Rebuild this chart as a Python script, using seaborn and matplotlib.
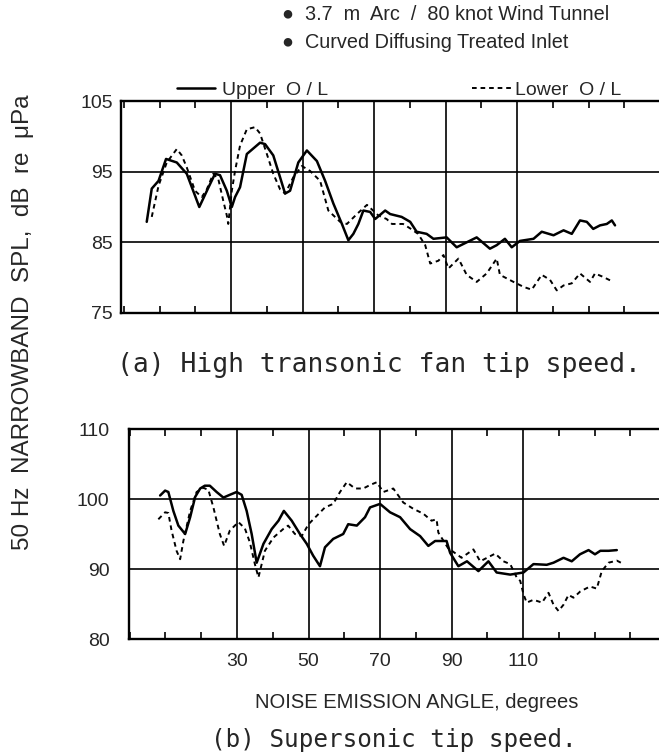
import numpy as np
import pandas as pd
import seaborn as sns
import matplotlib.pyplot as plt
from matplotlib.ticker import MultipleLocator

# (a) high transonic fan tip speed
a_upper_angle = [6.4, 7.8, 9.7, 11.8, 14.8, 17.6, 21.1, 23.7, 25.5, 26.9, 28.8, 30.2, 31.1, 32.5, 34.4,
                 38.1, 39.5, 41.8, 43.7, 45.1, 46.5, 48.8, 51.2, 54.0, 56.3, 58.6, 61.0, 62.8, 64.2,
                 65.6, 67.0, 68.9, 70.3, 73.1, 74.5, 77.7, 80.1, 81.9, 84.7, 86.6, 90.3, 93.1, 95.9,
                 98.7, 102.4, 104.3, 106.6, 108.5, 110.8, 114.6, 116.9, 120.2, 123.0, 125.3, 127.6,
                 129.5, 131.3, 133.2, 135.1, 136.5, 137.4]
a_upper_spl = [87.9, 92.6, 93.7, 96.8, 96.3, 94.7, 90.0, 92.8, 94.7, 94.5, 92.3, 90.0, 91.4, 92.8, 97.5,
               99.1, 98.9, 97.3, 94.2, 91.9, 92.3, 96.3, 98.0, 96.5, 93.7, 90.5, 87.6, 85.3, 86.2,
               87.6, 89.5, 89.3, 88.3, 89.5, 89.0, 88.6, 87.9, 86.5, 86.2, 85.5, 85.7, 84.3, 85.0,
               85.7, 84.1, 84.6, 85.5, 84.3, 85.2, 85.5, 86.5, 86.0, 86.7, 86.2, 88.1,
               87.9, 86.9, 87.4, 87.6, 88.1, 87.4]
a_lower_angle = [7.8, 9.7, 12.0, 14.8, 16.2, 17.6, 19.9, 21.8, 23.2, 25.0, 26.4, 27.8, 28.8, 29.2, 30.2,
                 31.1, 32.5, 34.4, 36.7, 38.1, 40.0, 41.8, 43.7, 45.1, 47.4, 49.8, 52.1, 54.9, 57.2,
                 60.5, 62.4, 65.2, 68.0, 71.2, 73.5, 75.0, 78.1, 80.0, 82.3, 84.3, 85.7, 88.0, 89.4,
                 90.8, 93.6, 95.9, 98.7, 101.5, 104.3, 105.2, 109.0, 111.8, 114.1, 116.9, 119.2,
                 121.1, 123.0, 125.3, 127.6, 130.4, 131.8, 134.1, 136.9]
a_lower_spl = [88.6, 93.0, 96.3, 98.2, 97.3, 95.6, 92.3, 91.4, 92.5, 94.7, 94.0, 90.9, 88.8, 87.6, 92.3,
               95.1, 98.7, 101.0, 101.3, 100.4, 97.5, 94.7, 92.5, 91.9, 94.2, 95.8, 95.1, 93.7, 89.5,
               87.9, 87.6, 89.0, 90.3, 88.8, 88.3, 87.6, 87.6, 87.0, 86.2, 84.6, 82.0, 82.4, 83.2,
               81.3, 82.7, 80.4, 79.4, 80.6, 82.7, 80.4, 79.4, 78.7, 78.3, 80.4, 79.7,
               78.2, 78.9, 79.2, 80.6, 79.4, 80.6, 80.1, 79.4]

# (b) supersonic tip speed
b_upper_angle = [8.5, 9.9, 10.8, 12.2, 13.6, 15.5, 16.9, 18.3, 19.7, 21.0, 22.4, 24.3, 26.2, 28.0, 29.9,
                 31.3, 32.7, 34.1, 35.5, 37.4, 39.7, 41.6, 43.1, 45.3, 47.6, 49.5, 51.3, 53.2, 54.6,
                 56.9, 59.7, 61.1, 63.5, 65.8, 67.2, 70.0, 72.8, 75.6, 78.4, 81.2, 83.5, 85.4, 88.6,
                 89.6, 91.9, 94.3, 97.5, 100.3, 102.6, 106.4, 110.1, 112.9, 116.6, 118.5, 121.3,
                 123.6, 125.9, 128.3, 130.1, 131.6, 133.9, 136.2]
b_upper_spl = [100.5, 101.2, 101.0, 98.3, 96.2, 95.0, 97.4, 100.3, 101.5, 101.9, 101.9, 101.0, 100.2,
               100.6, 101.0, 100.6, 98.3, 95.0, 90.9, 93.6, 95.7, 96.9, 98.3, 96.9, 95.0, 93.6, 91.9,
               90.4, 93.1, 94.3, 95.0, 96.4, 96.2, 97.4, 98.8, 99.3, 98.1, 97.4, 95.7, 94.7, 93.3,
               94.0, 94.0, 92.3, 90.4, 91.1, 89.7, 91.1, 89.5, 89.2, 89.5, 90.7, 90.6, 90.9, 91.6,
               91.1, 92.1, 92.7, 92.1, 92.6, 92.6, 92.7]
b_lower_angle = [8.0, 9.9, 10.8, 11.7, 13.1, 14.1, 15.0, 16.9, 18.7, 20.6, 22.0, 23.4, 25.2, 26.4, 28.0,
                 30.4, 32.2, 33.6, 35.0, 36.0, 37.8, 40.2, 42.9, 44.3, 46.2, 48.1, 50.0, 52.3, 54.6,
                 56.9, 58.8, 60.7, 63.0, 65.3, 67.2, 69.1, 70.9, 73.7, 76.5, 79.3, 82.1, 84.4, 85.8,
                 86.3, 89.0, 92.8, 96.1, 98.0, 102.2, 104.5, 106.4, 108.2, 109.2, 110.1, 111.0, 112.9,
                 115.3, 117.1, 118.5, 119.9, 121.3, 122.7, 124.1, 126.0, 128.7, 130.6, 132.0, 133.9,
                 136.2, 138.1]
b_lower_spl = [97.1, 98.1, 98.0, 95.5, 92.6, 91.4, 94.0, 98.3, 101.0, 101.6, 101.3, 98.8, 95.0, 93.3,
               95.5, 96.7, 95.8, 93.8, 90.7, 88.8, 92.6, 94.5, 95.7, 96.2, 95.0, 94.7, 96.4, 97.6,
               98.8, 99.3, 101.0, 102.4, 101.5, 101.5, 102.0, 102.4, 101.0, 101.5, 99.5, 98.6, 97.9,
               96.9, 97.1, 95.2, 93.0, 91.6, 92.8, 91.1, 92.2, 91.1, 90.7, 88.8, 88.3, 86.4, 85.2,
               85.6, 85.2, 86.6, 84.9, 84.0, 84.9, 86.3, 85.9, 86.8, 87.5, 87.2, 89.7, 90.9,
               91.2, 90.7]

grid_angles = [30, 50, 70, 90, 110]
bottom_labels = ["30", "50", "70", "90", "110"]
a_yticks = [75, 85, 95, 105]
b_yticks = [80, 90, 100, 110]

sns.set_style("white")
narrow = ['Liberation Sans Narrow', 'Liberation Sans', 'DejaVu Sans']
plt.rcParams['font.family'] = narrow

W, H = 659, 756
fig = plt.figure(figsize=(W / 100, H / 100), dpi=100)


def px_axes(left, top, right, bottom):
    return fig.add_axes([left / W, 1 - bottom / H, (right - left) / W, (bottom - top) / H])


def style(ax, xlim, ylim, yticks):
    ax.set_xlim(*xlim)
    ax.set_ylim(*ylim)
    ax.set_xticks(grid_angles)
    ax.xaxis.set_minor_locator(MultipleLocator(10))
    ax.set_yticks(yticks)
    ax.grid(True, which='major', color='black', lw=1.2)
    ax.tick_params(which='major', length=0, labelsize=14, pad=7)
    ax.tick_params(which='minor', direction='in', length=5, width=1.2, top=True, bottom=True,
                   color='black')
    for side in ['left', 'top', 'bottom']:
        ax.spines[side].set_color('black')
        ax.spines[side].set_linewidth(1.7)
    ax.spines['right'].set_visible(False)
    ax.set_xlabel('')
    ax.set_ylabel('')


# top panel
ax1 = px_axes(121, 101, 659, 313)
df_a_up = pd.DataFrame({'angle': a_upper_angle, 'spl': a_upper_spl})
df_a_lo = pd.DataFrame({'angle': a_lower_angle, 'spl': a_lower_spl})
sns.lineplot(data=df_a_up, x='angle', y='spl', ax=ax1, color='black', lw=1.8, label='Upper  O / L')
sns.lineplot(data=df_a_lo, x='angle', y='spl', ax=ax1, color='black', lw=1.4,
             linestyle=(0, (2.4, 2.0)), label='Lower  O / L')
style(ax1, (-0.8, 149.7), (75, 105), a_yticks)
ax1.set_xticklabels([])
ax1.tick_params(axis='y', which='major', pad=6)
ax1.get_legend().remove()

h = ax1.get_lines()
leg1 = ax1.legend([h[0]], ['Upper  O / L'], loc='center left', bbox_to_anchor=(0.104, 1.052),
                  frameon=False, fontsize=14, handlelength=1.95, handletextpad=0.35,
                  borderpad=0, borderaxespad=0)
ax1.add_artist(leg1)
ax1.legend([h[1]], ['Lower  O / L'], loc='center left', bbox_to_anchor=(0.652, 1.052),
           frameon=False, fontsize=14, handlelength=2.1, handletextpad=0.1,
           borderpad=0, borderaxespad=0)

# bottom panel
ax2 = px_axes(129, 429, 659, 639)
df_b_up = pd.DataFrame({'angle': b_upper_angle, 'spl': b_upper_spl})
df_b_lo = pd.DataFrame({'angle': b_lower_angle, 'spl': b_lower_spl})
sns.lineplot(data=df_b_up, x='angle', y='spl', ax=ax2, color='black', lw=1.8, legend=False)
sns.lineplot(data=df_b_lo, x='angle', y='spl', ax=ax2, color='black', lw=1.4,
             linestyle=(0, (2.4, 2.0)), legend=False)
style(ax2, (-0.2, 148.0), (80, 110), b_yticks)
ax2.set_xticklabels(bottom_labels)
ax2.tick_params(axis='x', which='major', pad=10)
ax2.tick_params(axis='y', which='major', pad=14)

# texts
fig.text(282 / W, 1 - 15 / H, '\u25cf  3.7  m  Arc  /  80 knot Wind Tunnel', fontsize=14.3,
         va='center', ha='left')
fig.text(282 / W, 1 - 42 / H, '\u25cf  Curved Diffusing Treated Inlet', fontsize=14.3,
         va='center', ha='left')
fig.text(379 / W, 1 - 372 / H, '(a) High transonic fan tip speed.', family='DejaVu Sans Mono',
         fontsize=19, ha='center', va='baseline')
fig.text(394 / W, 1 - 747 / H, '(b) Supersonic tip speed.', family='DejaVu Sans Mono',
         fontsize=17.5, ha='center', va='baseline')
fig.text(417 / W, 1 - 708 / H, 'NOISE EMISSION ANGLE, degrees', fontsize=14.5,
         ha='center', va='baseline')
fig.text(23 / W, 1 - 322 / H, '50 Hz  NARROWBAND  SPL,  dB  re  \u03bcPa', fontsize=17.5,
         rotation=90, ha='center', va='center')

fig.savefig('out.png', dpi=100)
